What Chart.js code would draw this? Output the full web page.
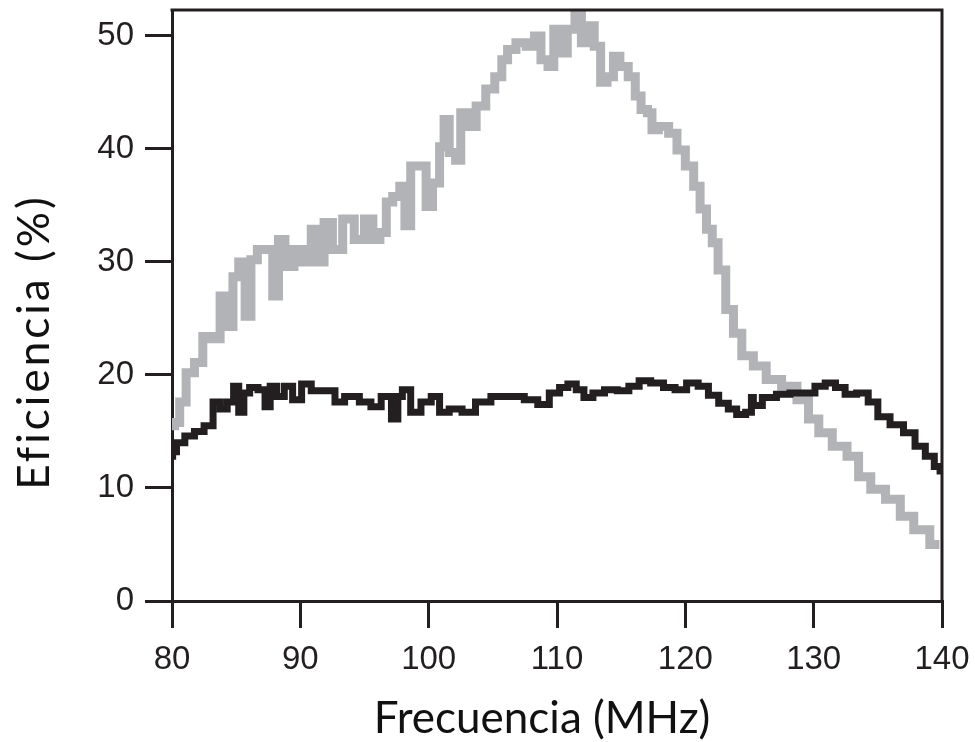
<!DOCTYPE html>
<html>
<head>
<meta charset="utf-8">
<script src="https://cdn.jsdelivr.net/npm/chart.js@4.4.1/dist/chart.umd.min.js"></script>
<style>
  html, body { margin: 0; padding: 0; background: #ffffff; }
  #wrap { width: 975px; height: 742px; }
</style>
</head>
<body>
<div id="wrap"><canvas id="c" width="975" height="742"></canvas></div>
<script>
// ---- data ----
const xTitle = 'Frecuencia (MHz)';
const yTitle = 'Eficiencia (%)';
const xTicks = [80, 90, 100, 110, 120, 130, 140];
const yTicks = [0, 10, 20, 30, 40, 50];

const grayFreq = [80.0, 80.4, 80.8, 81.4, 82.1, 82.7, 83.5, 84.0, 84.5, 85.0, 85.4, 86.0, 86.3, 87.0, 87.6, 88.1, 88.5, 89.1, 89.9, 90.5, 91.2, 91.5, 92.2, 92.8, 93.8, 94.6, 95.4, 95.9, 96.5, 96.9, 97.5, 98.0, 98.3, 98.9, 99.6, 100.0, 100.6, 101.1, 101.3, 101.9, 102.3, 102.7, 103.3, 104.1, 104.8, 105.5, 105.9, 106.4, 107.2, 108.0, 108.5, 109.0, 109.6, 109.9, 110.5, 111.1, 111.7, 112.1, 112.6, 113.2, 113.6, 114.2, 114.6, 115.2, 115.9, 116.3, 116.8, 117.3, 117.5, 118.3, 119.1, 119.6, 120.4, 120.9, 121.4, 121.9, 122.3, 122.8, 123.5, 124.0, 124.8, 125.8, 126.8, 128.2, 129.2, 130.0, 130.8, 132.1, 133.1, 133.9, 135.0, 136.2, 137.3, 138.3, 139.8];
const grayEff  = [15.5, 15.8, 17.6, 20.2, 21.1, 23.4, 23.2, 27.0, 24.3, 28.7, 30.0, 25.2, 30.2, 31.1, 31.1, 27.0, 32.0, 29.6, 31.1, 30.0, 32.9, 30.0, 33.5, 31.1, 33.8, 32.0, 33.8, 32.0, 32.6, 35.3, 35.8, 36.7, 33.2, 38.5, 38.5, 34.9, 37.0, 40.2, 42.6, 39.7, 39.0, 43.2, 42.0, 43.8, 45.3, 46.4, 47.9, 48.8, 49.4, 49.1, 50.0, 47.9, 47.3, 50.6, 48.5, 50.6, 52.0, 49.4, 50.9, 49.1, 45.9, 46.4, 48.2, 47.3, 46.4, 44.7, 43.5, 43.2, 41.7, 42.0, 41.4, 39.9, 38.5, 36.7, 34.7, 32.9, 31.7, 29.3, 25.8, 23.7, 21.7, 20.8, 19.6, 19.0, 17.8, 16.1, 14.9, 13.7, 12.8, 11.0, 9.9, 9.0, 7.5, 6.3, 5.0];

const blackFreq = [80.0, 80.1, 80.6, 81.4, 82.1, 82.9, 83.5, 84.0, 84.6, 85.0, 85.4, 85.8, 86.3, 87.1, 87.4, 87.9, 88.4, 89.1, 89.7, 90.5, 91.2, 92.6, 92.8, 94.1, 95.1, 95.9, 96.7, 97.5, 97.7, 98.2, 99.0, 99.8, 100.6, 101.1, 102.1, 103.1, 104.2, 105.5, 106.8, 108.1, 108.9, 109.9, 110.5, 111.2, 111.8, 112.4, 113.2, 114.2, 115.2, 116.0, 116.8, 117.8, 118.8, 119.6, 120.6, 121.4, 122.2, 123.0, 123.7, 124.3, 125.1, 125.2, 125.4, 126.6, 127.6, 128.7, 129.7, 130.5, 131.3, 132.1, 132.8, 133.9, 134.6, 135.4, 136.5, 137.5, 138.3, 139.1, 139.7, 140.0];
const blackEff  = [12.8, 13.2, 14.0, 14.6, 15.0, 15.5, 17.6, 17.0, 17.6, 19.0, 16.7, 18.4, 18.9, 18.7, 17.2, 19.0, 18.1, 19.0, 17.8, 19.2, 18.6, 18.6, 17.6, 18.1, 17.6, 17.2, 18.1, 16.1, 18.1, 18.7, 16.7, 17.6, 18.1, 16.7, 17.0, 16.7, 17.6, 18.1, 18.1, 17.8, 17.4, 18.4, 18.9, 19.2, 18.7, 18.0, 18.4, 18.7, 18.6, 19.0, 19.5, 19.3, 18.9, 18.7, 19.3, 19.0, 18.2, 17.5, 17.0, 16.5, 16.7, 18.0, 17.3, 18.0, 18.3, 18.4, 18.4, 19.0, 19.3, 18.9, 18.3, 18.4, 17.6, 16.3, 15.6, 14.9, 13.7, 12.8, 11.9, 11.5];

const toPoints = (xs, ys) => xs.map((x, i) => ({ x: x, y: ys[i] }));

const INK = '#231f20';

const framePlugin = {
  id: 'frame',
  afterDraw(chart) {
    const { ctx, chartArea } = chart;
    ctx.save();
    ctx.strokeStyle = INK;
    ctx.lineWidth = 3;
    ctx.lineCap = 'square';
    ctx.beginPath();
    ctx.moveTo(chartArea.left, chartArea.top);
    ctx.lineTo(chartArea.right, chartArea.top);
    ctx.lineTo(chartArea.right, chartArea.bottom);
    ctx.stroke();
    // axis titles
    ctx.fillStyle = '#111111';
    ctx.textAlign = 'center';
    ctx.textBaseline = 'middle';
    ctx.font = '44px Lato';
    ctx.fillText(xTitle, 542, 719);
    ctx.translate(35, 342);
    ctx.rotate(-Math.PI / 2);
    if ('letterSpacing' in ctx) ctx.letterSpacing = '3px';
    ctx.fillText(yTitle, 0, 0);
    ctx.restore();
  }
};

new Chart(document.getElementById('c'), {
  type: 'line',
  data: {
    datasets: [
      {
        label: 'black',
        data: toPoints(blackFreq, blackEff),
        borderColor: INK,
        borderWidth: 7,
        pointRadius: 0,
        stepped: 'middle',
        fill: false,
        order: 0
      },
      {
        label: 'gray',
        data: toPoints(grayFreq, grayEff),
        borderColor: '#b2b3b7',
        borderWidth: 9,
        pointRadius: 0,
        stepped: 'middle',
        fill: false,
        order: 1
      }
    ]
  },
  options: {
    responsive: false,
    animation: false,
    events: [],
    layout: { padding: { left: 0, top: 10, right: 33, bottom: 0 } },
    plugins: { legend: { display: false }, tooltip: { enabled: false }, title: { display: false } },
    scales: {
      x: {
        type: 'linear',
        min: 80, max: 140,
        afterBuildTicks: (s) => { s.ticks = xTicks.map(v => ({ value: v })); },
        afterFit: (s) => { s.height = 141; s.paddingLeft = 0; s.paddingRight = 0; },
        border: { display: true, color: INK, width: 3 },
        grid: { drawOnChartArea: false, drawTicks: true, tickLength: 27, lineWidth: 3, color: INK },
        ticks: { color: INK, font: { family: 'Liberation Sans', size: 33 }, padding: 12, maxRotation: 0 }
      },
      y: {
        type: 'linear',
        min: 0, max: 52.3,
        afterBuildTicks: (s) => { s.ticks = yTicks.map(v => ({ value: v })); },
        afterFit: (s) => { s.width = 172; s.paddingTop = 0; s.paddingBottom = 0; },
        border: { display: true, color: INK, width: 3 },
        grid: { drawOnChartArea: false, drawTicks: true, tickLength: 27, lineWidth: 3, color: INK },
        ticks: { color: INK, font: { family: 'Liberation Sans', size: 33 }, padding: 11 }
      }
    }
  },
  plugins: [framePlugin]
});
</script>
</body>
</html>
